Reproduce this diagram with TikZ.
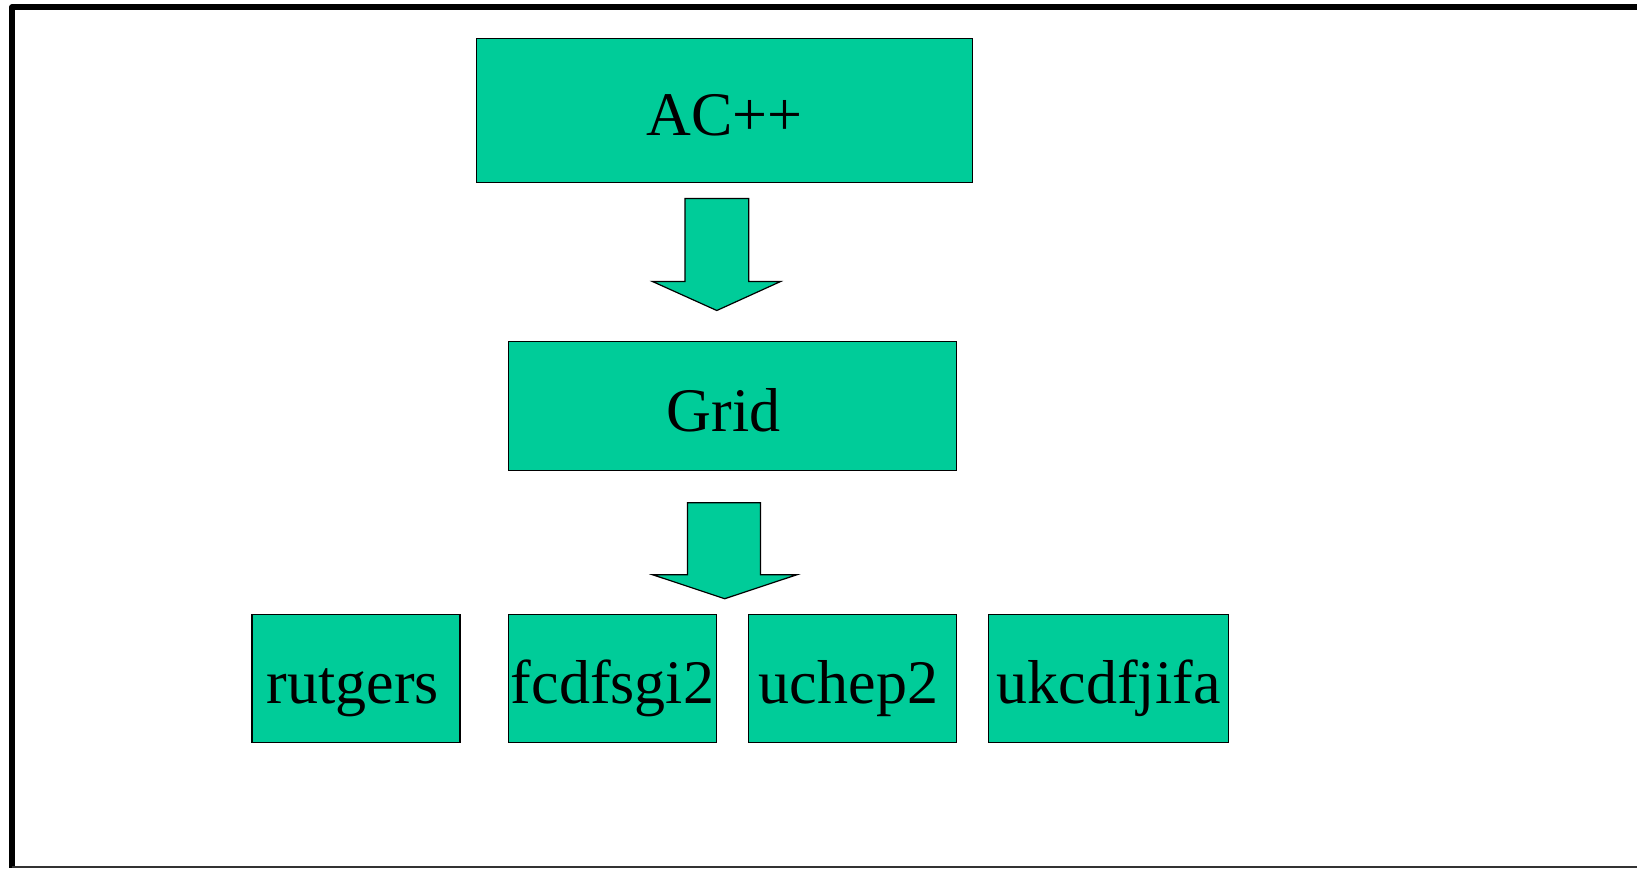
\documentclass[tikz,border=0pt]{standalone}
\usepackage{fontspec}
\setmainfont{Liberation Serif}
\definecolor{boxgreen}{RGB}{0,204,153}

\tikzset{
  box/.style={draw=black, fill=boxgreen, line width=0.6pt, inner sep=0pt,
              text height=25pt, text depth=0pt,
              font=\fontsize{31}{37}\selectfont},
  blockarrow/.style={draw=black, fill=boxgreen, line width=0.6pt, line join=miter}
}

\begin{document}
\begin{tikzpicture}[x=0.5pt,y=-0.5pt]

    \useasboundingbox (0,0) rectangle (1637,869);

    % frame
    \draw[line width=3pt,line join=round] (1640,7) -- (12.3,7) -- (12.3,868);
    \draw[line width=1pt,black!80] (12.3,867) -- (1640,867);

    % boxes
    \node[box,minimum width=248pt,minimum height=72pt] (acpp) at (724.5,110.7) {AC++};
    \node[box,minimum width=224pt,minimum height=64.75pt] (grid) at (732.5,406) {\kern-9pt Grid};

    \node[box,minimum width=104pt,minimum height=64pt] (rutgers) at (356,678.5) {\kern-3pt rutgers};
    \node[box,minimum width=104pt,minimum height=64pt] (fcdfsgi) at (612.5,678.5) {fcdfsgi2};
    \node[box,minimum width=104pt,minimum height=64pt] (uchep) at (852.5,678.5) {\kern-4pt uchep2};
    \node[box,minimum width=120pt,minimum height=64pt] (ukcdf) at (1108.7,678.5) {ukcdfjifa};

    % block arrows
    \coordinate (tipA) at (716.8,310.5);
    \draw[blockarrow] (tipA) -- (652.5,281.5) -- (685,281.5) -- (685,198.5)
        -- (748.7,198.5) -- (748.7,281.5) -- (780.6,281.5) -- cycle;

    \coordinate (tipB) at (724.7,598.7);
    \draw[blockarrow] (tipB) -- (652.5,574.7) -- (687.5,574.7) -- (687.5,502.7)
        -- (760.5,502.7) -- (760.5,574.7) -- (797,574.7) -- cycle;

\end{tikzpicture}
\end{document}
